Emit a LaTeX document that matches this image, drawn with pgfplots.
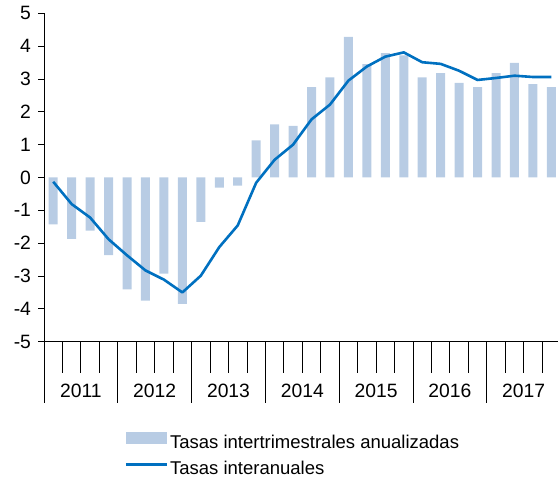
\documentclass[border=0pt]{standalone}
\usepackage{pgfplots}
\pgfplotsset{compat=1.18}
\usepackage{fontspec}
\setmainfont{Liberation Sans}
\definecolor{barblue}{RGB}{184,204,228}
\definecolor{lineblue}{RGB}{0,112,192}
\newcommand{\lbl}{\fontsize{19.3}{22}\selectfont}
\newcommand{\lgd}{\fontsize{18.5}{22}\selectfont}
\begin{document}
\begin{tikzpicture}
\begin{axis}[
  at={(44pt,135.3pt)}, anchor=south west,
  scale only axis, width=516.6pt, height=328.4pt,
  xmin=-0.5, xmax=27.5, ymin=-5, ymax=5,
  axis x line*=bottom, axis y line*=left,
  axis line style={black, line width=0.8pt, -},
  tick style={black, line width=0.8pt},
  tick align=outside,
  major tick length=5.5pt,
  minor tick length=31pt,
  ytick={-5,-4,-3,-2,-1,0,1,2,3,4,5},
  yticklabels={-5,-4,-3,-2,-1,0,1,2,3,4,5},
  xtick={-0.5,3.5,7.5,11.5,15.5,19.5,23.5,27.5},
  xticklabels={2011,2012,2013,2014,2015,2016,2017},
  x tick label as interval,
  xtick style={/pgfplots/major tick length=61.3pt},
  minor xtick={0.5,1.5,2.5,4.5,5.5,6.5,8.5,9.5,10.5,12.5,13.5,14.5,16.5,17.5,18.5,20.5,21.5,22.5,24.5,25.5,26.5},
  ticklabel style={font=\lbl},
  xticklabel style={anchor=base, yshift=-50pt},
  yticklabel style={xshift=-4pt},
  clip=false,
  legend style={at={(axis description cs:0.1555,-0.275)}, anchor=north west,
    draw=none, fill=none, inner sep=0pt, font=\lgd, row sep=9.5pt,
    nodes={inner sep=1pt},
    cells={anchor=west},
    /tikz/every odd column/.append style={column sep=1pt}},
]
\addplot[ybar, bar width=9pt, fill=barblue, draw=none,
  legend image code/.code={\fill[barblue] (0pt,-2pt) rectangle (41pt,10pt);}]
  coordinates {
  (0,-1.43) (1,-1.87) (2,-1.62) (3,-2.36) (4,-3.41) (5,-3.75) (6,-2.93)
  (7,-3.85) (8,-1.35) (9,-0.31) (10,-0.25) (11,1.13) (12,1.62) (13,1.57)
  (14,2.75) (15,3.05) (16,4.28) (17,3.45) (18,3.79) (19,3.72) (20,3.05)
  (21,3.18) (22,2.88) (23,2.75) (24,3.18) (25,3.49) (26,2.84) (27,2.75)
  };
\addlegendentry{Tasas intertrimestrales anualizadas}
\addplot[lineblue, line width=2.6pt, line join=round,
  legend image code/.code={\draw[lineblue, line width=2.6pt] (0pt,4pt) -- (41pt,4pt);}]
  coordinates {
  (0,-0.13) (1,-0.81) (2,-1.22) (3,-1.88) (4,-2.37) (5,-2.83) (6,-3.11)
  (7,-3.50) (8,-2.99) (9,-2.12) (10,-1.46) (11,-0.16) (12,0.54) (13,1.00)
  (14,1.77) (15,2.22) (16,2.95) (17,3.38) (18,3.68) (19,3.81) (20,3.51)
  (21,3.46) (22,3.25) (23,2.97) (24,3.03) (25,3.10) (26,3.06) (27,3.06)
  };
\addlegendentry{Tasas interanuales}
\end{axis}
\pgfresetboundingbox
\path[use as bounding box] (0pt,0pt) rectangle (558pt,477pt);
\end{tikzpicture}
\end{document}
